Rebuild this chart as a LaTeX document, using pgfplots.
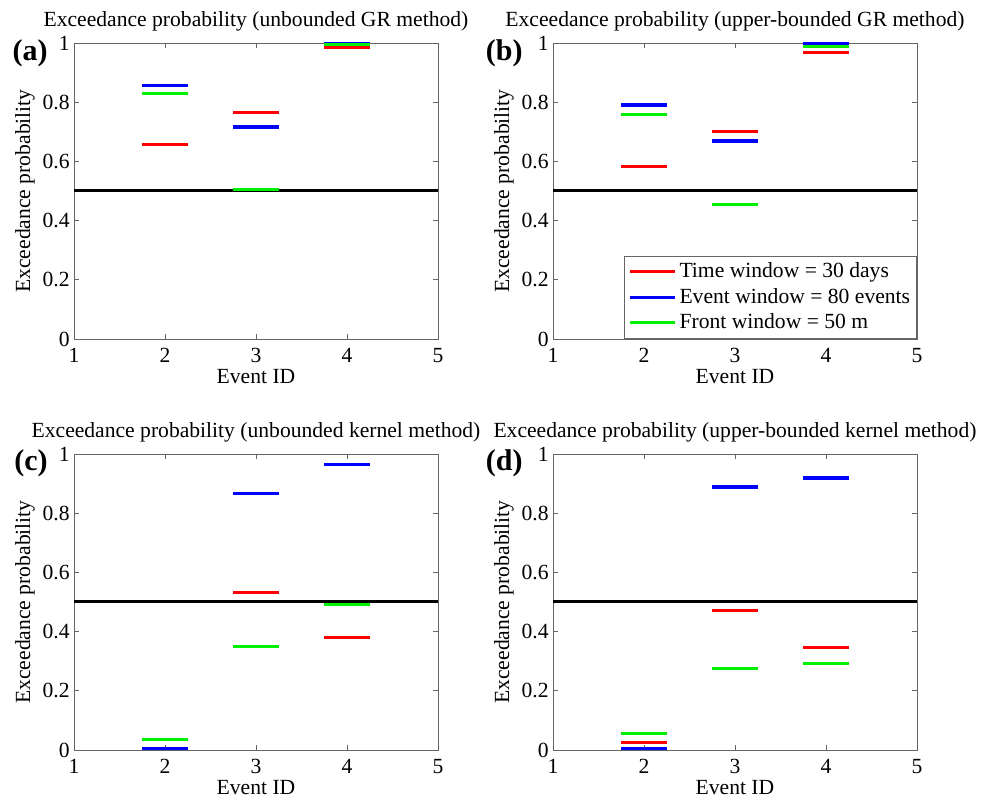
\documentclass[border=0pt]{standalone}
\usepackage{fontspec}
\setmainfont{Liberation Serif}
\usepackage{pgfplots}
\pgfplotsset{compat=1.18}
\newcommand{\fs}{\fontsize{10.8}{13}\selectfont}
\definecolor{mred}{rgb}{1,0,0}
\definecolor{mblue}{rgb}{0,0,1}
\definecolor{mgreen}{rgb}{0,0.95,0}
\pgfplotsset{
  ep/.style={
    scale only axis, width=182pt, height=148pt,
    xmin=1, xmax=5, ymin=0, ymax=1,
    xtick={1,2,3,4,5}, ytick={0,0.2,0.4,0.6,0.8,1},
    xticklabels={1,2,3,4,5},
    yticklabels={\llap{0},\llap{0.2},\llap{0.4},\llap{0.6},\llap{0.8},\llap{1}},
    tick align=inside, major tick length=2.5pt,
    axis line style={draw=black!60},
    every tick/.style={black!60},
    tick label style={font=\fs\rmfamily},
    xticklabel style={inner sep=0pt, anchor=north, yshift=-4.5pt},
    yticklabel style={inner sep=0pt, anchor=east, xshift=-1.5pt},
    xlabel={Event ID}, ylabel={Exceedance probability},
    label style={font=\fs},
    xlabel style={at={(axis description cs:0.5,0)}, anchor=north, inner sep=0pt, yshift=-15pt},
    ylabel style={at={(axis description cs:-0.1346,0.5)}, anchor=center, inner sep=0pt},
    title style={font=\fs, inner sep=0pt, anchor=south, at={(axis description cs:0.5,1)}, yshift=-0.5pt},
    unbounded coords=jump,
    legend image code/.code={\draw[##1] (0pt,0pt) -- (22.5pt,0pt);},
  },
  redl/.style={color=mred, line width=1.5pt},
  bluel/.style={color=mblue, line width=1.8pt},
  greenl/.style={color=mgreen, line width=1.5pt},
  half/.style={black, line width=1.5pt, forget plot},
}
\begin{document}
\begin{tikzpicture}
\path[use as bounding box] (0,0) rectangle (495.5pt,-400.5pt);

% (a)
\begin{axis}[ep, name=a, at={(37pt,-21.5pt)}, anchor=north west,
  title={Exceedance probability (unbounded GR method)}]
\addplot[half] coordinates {(1,0.5) (5,0.5)};
\addplot[redl] coordinates {(1.75,0.656) (2.25,0.656) (2.5,nan) (2.75,0.764) (3.25,0.764) (3.5,nan) (3.75,0.985) (4.25,0.985)};
\addplot[bluel] coordinates {(1.75,0.856) (2.25,0.856) (2.5,nan) (2.75,0.717) (3.25,0.717) (3.5,nan) (3.75,0.999) (4.25,0.999)};
\addplot[greenl] coordinates {(1.75,0.828) (2.25,0.828) (2.5,nan) (2.75,0.505) (3.25,0.505) (3.5,nan) (3.75,0.996) (4.25,0.996)};
\end{axis}
\node[anchor=east, font=\bfseries\fontsize{15}{17}\selectfont, inner sep=0pt] at ([xshift=-13pt,yshift=-5pt]a.north west) {(a)};

% (b)
\begin{axis}[ep, name=b, at={(276.5pt,-21.5pt)}, anchor=north west,
  title={Exceedance probability (upper-bounded GR method)},
  legend cell align=left,
  legend style={at={(1,0)}, anchor=south east, draw=black!60, fill=white, font=\fs,
    inner xsep=2pt, inner ysep=1.5pt, row sep=0pt,
    nodes={inner xsep=1.25pt, inner ysep=0pt, minimum height=12.75pt}}]
\addplot[half] coordinates {(1,0.5) (5,0.5)};
\addplot[redl] coordinates {(1.75,0.584) (2.25,0.584) (2.5,nan) (2.75,0.700) (3.25,0.700) (3.5,nan) (3.75,0.968) (4.25,0.968)};
\addplot[bluel] coordinates {(1.75,0.791) (2.25,0.791) (2.5,nan) (2.75,0.668) (3.25,0.668) (3.5,nan) (3.75,0.997) (4.25,0.997)};
\addplot[greenl] coordinates {(1.75,0.758) (2.25,0.758) (2.5,nan) (2.75,0.456) (3.25,0.456) (3.5,nan) (3.75,0.987) (4.25,0.987)};
\legend{Time window = 30 days, Event window = 80 events, Front window = 50 m}
\end{axis}
\node[anchor=east, font=\bfseries\fontsize{15}{17}\selectfont, inner sep=0pt] at ([xshift=-15pt,yshift=-5pt]b.north west) {(b)};

% (c)
\begin{axis}[ep, name=c, at={(37pt,-227pt)}, anchor=north west,
  title={Exceedance probability (unbounded kernel method)}]
\addplot[half] coordinates {(1,0.5) (5,0.5)};
\addplot[redl] coordinates {(1.75,0.002) (2.25,0.002) (2.5,nan) (2.75,0.533) (3.25,0.533) (3.5,nan) (3.75,0.379) (4.25,0.379)};
\addplot[bluel] coordinates {(1.75,0.003) (2.25,0.003) (2.5,nan) (2.75,0.867) (3.25,0.867) (3.5,nan) (3.75,0.965) (4.25,0.965)};
\addplot[greenl] coordinates {(1.75,0.036) (2.25,0.036) (2.5,nan) (2.75,0.350) (3.25,0.350) (3.5,nan) (3.75,0.490) (4.25,0.490)};
\end{axis}
\node[anchor=east, font=\bfseries\fontsize{15}{17}\selectfont, inner sep=0pt] at ([xshift=-13pt,yshift=-4.5pt]c.north west) {(c)};

% (d)
\begin{axis}[ep, name=d, at={(276.5pt,-227pt)}, anchor=north west,
  title={Exceedance probability (upper-bounded kernel method)}]
\addplot[half] coordinates {(1,0.5) (5,0.5)};
\addplot[redl] coordinates {(1.75,0.025) (2.25,0.025) (2.5,nan) (2.75,0.472) (3.25,0.472) (3.5,nan) (3.75,0.347) (4.25,0.347)};
\addplot[bluel] coordinates {(1.75,0.003) (2.25,0.003) (2.5,nan) (2.75,0.888) (3.25,0.888) (3.5,nan) (3.75,0.918) (4.25,0.918)};
\addplot[greenl] coordinates {(1.75,0.055) (2.25,0.055) (2.5,nan) (2.75,0.277) (3.25,0.277) (3.5,nan) (3.75,0.292) (4.25,0.292)};
\end{axis}
\node[anchor=east, font=\bfseries\fontsize{15}{17}\selectfont, inner sep=0pt] at ([xshift=-15pt,yshift=-4.5pt]d.north west) {(d)};
\end{tikzpicture}
\end{document}
